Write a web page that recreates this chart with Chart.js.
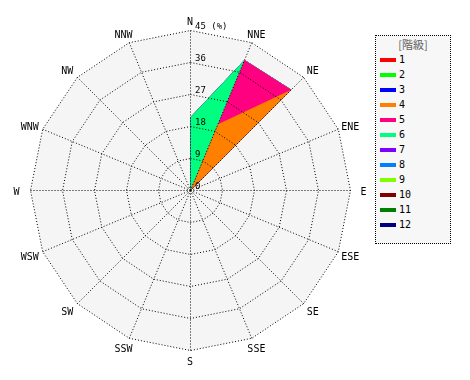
<!DOCTYPE html>
<html>
<head>
<meta charset="utf-8">
<script src="https://cdn.jsdelivr.net/npm/chart.js@4/dist/chart.umd.min.js"></script>
<style>
    body { margin: 0; background: #fff; }
    #wrap { position: relative; width: 470px; height: 380px; }
    #legend {
        position: absolute; left: 375px; top: 35px; width: 74px; height: 207px;
        border: 1px dotted #000; background: #f7f7f7;
        font: 10px "DejaVu Sans Mono", monospace; color: #000;
    }
    #legend .title {
        position: absolute; left: 0; top: 0; width: 74px; height: 13px; line-height: 13px;
        text-align: center; font: 11px "Noto Sans CJK JP", sans-serif; color: #606060;
    }
    #legend .row { position: absolute; left: 4px; height: 15px; line-height: 15px; white-space: nowrap; }
    #legend .sw { display: inline-block; width: 16px; height: 4px; vertical-align: middle; margin-right: 3px; }
</style>
</head>
<body>
<div id="wrap">
    <canvas id="windRose" width="470" height="380"></canvas>
    <div id="legend"></div>
</div>
<script>
const directions = ["N", "NNE", "NE", "ENE", "E", "ESE", "SE", "SSE", "S", "SSW", "SW", "WSW", "W", "WNW", "NW", "NNW"];

const classNames = ["1", "2", "3", "4", "5", "6", "7", "8", "9", "10", "11", "12"];
const classColors = ["#ff0000", "#00ff00", "#0000ff", "#ff8000", "#ff0080", "#00ff80",
                     "#8000ff", "#0080ff", "#80ff00", "#800000", "#008000", "#000080"];

// frequency (%) per direction for each class
const class1  = [0, 0, 0, 0, 0, 0, 0, 0, 0, 0, 0, 0, 0, 0, 0, 0];
const class2  = [0, 0, 0, 0, 0, 0, 0, 0, 0, 0, 0, 0, 0, 0, 0, 0];
const class3  = [0, 0, 0, 0, 0, 0, 0, 0, 0, 0, 0, 0, 0, 0, 0, 0];
const class4  = [0, 20.2, 40.1, 0, 0, 0, 0, 0, 0, 0, 0, 0, 0, 0, 0, 0];
const class5  = [0, 19.5, 0, 0, 0, 0, 0, 0, 0, 0, 0, 0, 0, 0, 0, 0];
const class6  = [20.6, 0, 0, 0, 0, 0, 0, 0, 0, 0, 0, 0, 0, 0, 0, 0];
const class7  = [0, 0, 0, 0, 0, 0, 0, 0, 0, 0, 0, 0, 0, 0, 0, 0];
const class8  = [0, 0, 0, 0, 0, 0, 0, 0, 0, 0, 0, 0, 0, 0, 0, 0];
const class9  = [0, 0, 0, 0, 0, 0, 0, 0, 0, 0, 0, 0, 0, 0, 0, 0];
const class10 = [0, 0, 0, 0, 0, 0, 0, 0, 0, 0, 0, 0, 0, 0, 0, 0];
const class11 = [0, 0, 0, 0, 0, 0, 0, 0, 0, 0, 0, 0, 0, 0, 0, 0];
const class12 = [0, 0, 0, 0, 0, 0, 0, 0, 0, 0, 0, 0, 0, 0, 0, 0];

const tickValues = [0, 9, 18, 27, 36, 45];
const tickLabels = ["0", "9", "18", "27", "36", "45 (%)"];

const classValues = [class1, class2, class3, class4, class5, class6,
                     class7, class8, class9, class10, class11, class12];

// stack the classes: each polygon reaches the running total
let running = directions.map(() => 0);
const datasets = classValues.map((values, k) => {
    running = running.map((sum, i) => sum + values[i]);
    return {
        label: classNames[k],
        data: running.slice(),
        backgroundColor: classColors[k],
        borderWidth: 0,
        pointRadius: 0,
        fill: "origin"
    };
});

const pixelAlign = {
    id: "pixelAlign",
    beforeDraw(chart) { chart.ctx.translate(0.5, 0.5); },
    afterDraw(chart) { chart.ctx.translate(-0.5, -0.5); }
};

const polygonBackground = {
    id: "polygonBackground",
    beforeDatasetsDraw(chart) {
        const scale = chart.scales.r;
        const ctx = chart.ctx;
        ctx.save();
        ctx.beginPath();
        directions.forEach((d, i) => {
            const p = scale.getPointPositionForValue(i, scale.max);
            if (i === 0) ctx.moveTo(p.x, p.y); else ctx.lineTo(p.x, p.y);
        });
        ctx.closePath();
        ctx.fillStyle = "#f5f5f5";
        ctx.fill();
        ctx.restore();
    }
};

const roseLabels = {
    id: "roseLabels",
    afterDraw(chart) {
        const scale = chart.scales.r;
        const ctx = chart.ctx;
        const R = scale.drawingArea;
        ctx.save();
        ctx.fillStyle = "#000";
        ctx.textBaseline = "middle";

        ctx.font = '10px "DejaVu Sans Mono"';
        ctx.textAlign = "center";
        directions.forEach((d, i) => {
            const x = scale.getPointPosition(i, R + 13.5).x;
            const y = scale.getPointPosition(i, R + 10).y + 2;
            ctx.fillText(d, x, y);
        });

        ctx.font = '9px "DejaVu Sans Mono"';
        ctx.textAlign = "left";
        tickValues.forEach((v, i) => {
            const p = scale.getPointPositionForValue(0, v);
            ctx.fillText(tickLabels[i], p.x + 5, p.y - 3.5);
        });
        ctx.restore();
    }
};

new Chart(document.getElementById("windRose"), {
    type: "radar",
    data: { labels: directions, datasets: datasets },
    options: {
        responsive: false,
        animation: false,
        events: [],
        layout: { padding: { left: 30, top: 30, right: 120, bottom: 30 } },
        scales: {
            r: {
                min: 0,
                max: 45,
                startAngle: 0,
                ticks: { display: false, stepSize: 9 },
                grid: { color: "#000", lineWidth: 1, z: 1 },
                border: { dash: [1, 2] },
                angleLines: { color: "#000", lineWidth: 1, borderDash: [1, 2] },
                pointLabels: { display: false }
            }
        },
        plugins: {
            legend: { display: false },
            tooltip: { enabled: false }
        }
    },
    plugins: [pixelAlign, polygonBackground, roseLabels]
});

// legend box built from the same class arrays
const legend = document.getElementById("legend");
legend.innerHTML = '<div class="title">[階級]</div>' +
    classNames.map((name, k) =>
        '<div class="row" style="top:' + (16 + 15 * k) + 'px">' +
        '<span class="sw" style="background:' + classColors[k] + '"></span>' + name + '</div>'
    ).join("");
</script>
</body>
</html>
